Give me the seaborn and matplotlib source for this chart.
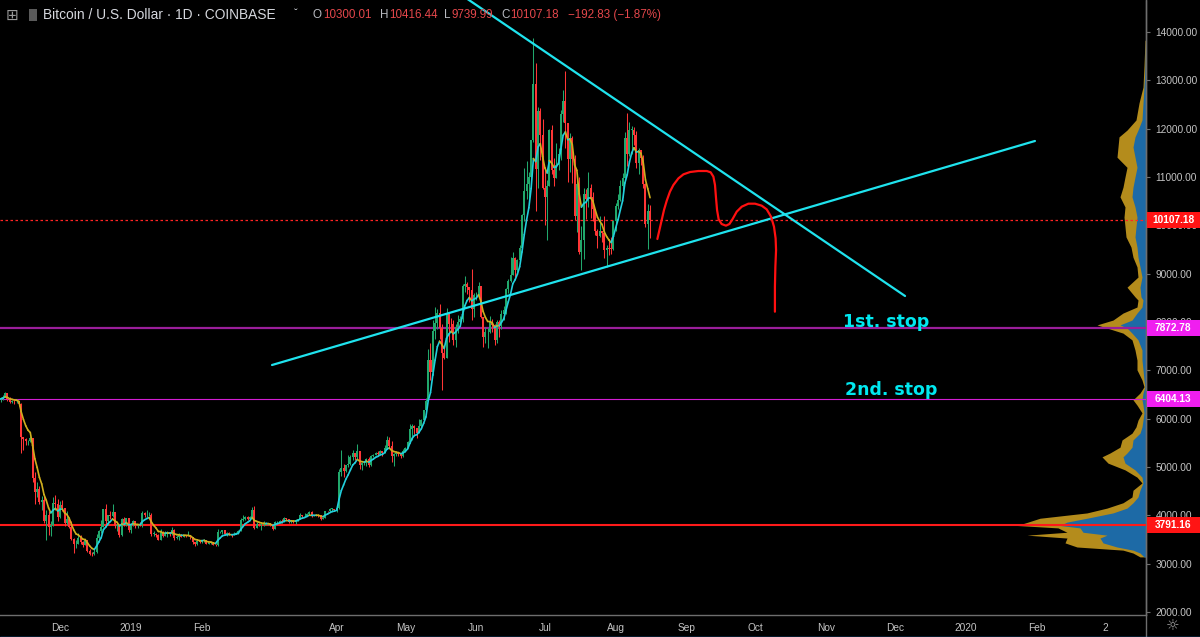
import numpy as np
import pandas as pd
import matplotlib
matplotlib.use("Agg")
import matplotlib.pyplot as plt
import matplotlib.transforms as mtrans
from matplotlib.patches import Rectangle
from matplotlib.lines import Line2D
from matplotlib.collections import LineCollection
import seaborn as sns

# ---------------- data (BTC/USD daily, COINBASE) ----------------
start_date = "2018-11-05"
first_open = 6380
nov_c = [6410, 6450, 6530, 6410, 6340, 6370, 6360, 6360, 6300, 5620, 5580, 5530, 5530, 5590, 4780, 4480, 4540, 4270, 4310, 3880, 4010, 3760, 3800, 4250, 4230, 3960]
nov_h = [6440, 6480, 6550, 6540, 6440, 6380, 6380, 6400, 6370, 6330, 5630, 5590, 5550, 5650, 5590, 4900, 4700, 4600, 4390, 4420, 4120, 4090, 3880, 4370, 4430, 4330]
nov_l = [6350, 6380, 6440, 6370, 6320, 6330, 6310, 6330, 6270, 5300, 5360, 5450, 5450, 5520, 4680, 4240, 4380, 4230, 4110, 3840, 3500, 3600, 3570, 3780, 4120, 3880]
dec_c = [4210, 4150, 3850, 3930, 3750, 3510, 3400, 3410, 3540, 3450, 3390, 3480, 3260, 3200, 3190, 3240, 3540, 3670, 3750, 4130, 3880, 4010, 3980, 4060, 3780, 3780, 3590, 3920, 3800, 3940, 3690]
dec_h = [4300, 4310, 4150, 4080, 3950, 3880, 3530, 3500, 3640, 3590, 3470, 3520, 3490, 3300, 3250, 3300, 3620, 3690, 3910, 4140, 4240, 4010, 4080, 4240, 4060, 3850, 3820, 3940, 3970, 3950, 3940]
dec_l = [3950, 4080, 3780, 3800, 3740, 3480, 3230, 3320, 3400, 3400, 3350, 3380, 3250, 3170, 3150, 3180, 3230, 3450, 3640, 3750, 3800, 3800, 3930, 3960, 3730, 3680, 3560, 3580, 3780, 3770, 3660]
jan_c = [3820, 3880, 3780, 3800, 3790, 4040, 4000, 4000, 4000, 3620, 3620, 3600, 3490, 3660, 3570, 3610, 3650, 3610, 3700, 3540, 3560, 3590, 3560, 3590, 3580, 3580, 3560, 3440, 3410, 3470, 3440]
jan_h = [3840, 3900, 3890, 3820, 3870, 4100, 4070, 4110, 4060, 4040, 3670, 3630, 3620, 3710, 3680, 3670, 3670, 3660, 3750, 3710, 3590, 3630, 3620, 3610, 3600, 3670, 3600, 3560, 3440, 3490, 3480]
jan_l = [3640, 3780, 3740, 3730, 3780, 3760, 3970, 3960, 3980, 3570, 3570, 3550, 3480, 3480, 3550, 3570, 3550, 3580, 3600, 3500, 3510, 3500, 3550, 3550, 3550, 3570, 3520, 3400, 3370, 3390, 3420]
feb_c = [3470, 3500, 3410, 3420, 3440, 3390, 3380, 3650, 3650, 3690, 3620, 3630, 3610, 3590, 3610, 3630, 3680, 3900, 3920, 3970, 3930, 3970, 4120, 3740, 3830, 3810, 3810, 3810]
feb_h = [3500, 3510, 3500, 3430, 3450, 3450, 3400, 3710, 3670, 3700, 3690, 3650, 3660, 3620, 3650, 3660, 3700, 3950, 4000, 3990, 3990, 3990, 4170, 4200, 3860, 3840, 3840, 3890]
feb_l = [3430, 3450, 3400, 3400, 3410, 3380, 3370, 3370, 3630, 3620, 3600, 3580, 3590, 3560, 3590, 3610, 3610, 3670, 3880, 3900, 3900, 3920, 3950, 3720, 3730, 3780, 3690, 3780]
mar_c = [3820, 3830, 3790, 3720, 3860, 3870, 3880, 3870, 3950, 3930, 3870, 3890, 3870, 3880, 3920, 4010, 3980, 3990, 4030, 4070, 3990, 4000, 4010, 4000, 3930, 3950, 4090, 4080, 4130, 4130, 4110]
mar_h = [3860, 3840, 3840, 3800, 3880, 3880, 3900, 3930, 3960, 3950, 3930, 3900, 3890, 3930, 3930, 4050, 4010, 4040, 4040, 4080, 4080, 4010, 4020, 4010, 4000, 3960, 4100, 4090, 4160, 4160, 4130]
mar_l = [3800, 3790, 3770, 3690, 3710, 3830, 3850, 3840, 3860, 3900, 3850, 3840, 3850, 3830, 3880, 3920, 3960, 3960, 3980, 4000, 3970, 3980, 3990, 3970, 3900, 3920, 3940, 4060, 4060, 4100, 4100]
apr_c = [4150, 4890, 4970, 4920, 5050, 5060, 5200, 5290, 5200, 5330, 5040, 5080, 5080, 5170, 5040, 5220, 5240, 5290, 5270, 5330, 5290, 5390, 5560, 5440, 5220, 5260, 5280, 5270, 5220, 5330]
apr_h = [4150, 4950, 5350, 5060, 5050, 5250, 5250, 5350, 5300, 5470, 5340, 5110, 5130, 5180, 5200, 5240, 5270, 5320, 5330, 5360, 5340, 5460, 5640, 5630, 5530, 5300, 5320, 5310, 5300, 5370]
apr_l = [4070, 4140, 4810, 4790, 4900, 4990, 5050, 5150, 5150, 5170, 4960, 4930, 5050, 5030, 4990, 5030, 5200, 5240, 5220, 5260, 5220, 5280, 5380, 5400, 5110, 5020, 5220, 5230, 5180, 5200]
may_c = [5400, 5510, 5780, 5850, 5800, 5710, 5850, 5970, 6180, 6370, 7210, 6960, 7810, 7980, 8190, 7880, 7350, 7260, 8190, 7960, 7950, 7630, 7890, 7990, 8070, 8750, 8790, 8720, 8660, 8270, 8550]
may_h = [5410, 5540, 5890, 5900, 5860, 5810, 6000, 6000, 6180, 6430, 7450, 7560, 8050, 8320, 8270, 8380, 7950, 7460, 8280, 8200, 8090, 8040, 7960, 8150, 8120, 8780, 8950, 8820, 8730, 9090, 8590]
may_l = [5320, 5390, 5500, 5560, 5690, 5600, 5700, 5800, 5950, 6140, 6370, 6800, 6900, 7650, 7860, 7650, 6600, 7230, 7250, 7590, 7810, 7520, 7490, 7780, 7950, 7990, 8620, 8580, 8420, 8040, 8100]
jun_c = [8550, 8740, 8110, 7680, 7790, 7800, 8000, 7930, 7630, 8010, 7920, 8170, 8240, 8690, 8850, 8980, 9330, 9080, 9280, 9530, 10210, 10700, 10860, 11000, 11760, 12930, 11160, 12370, 11870, 10770]
jun_h = [8620, 8820, 8750, 8110, 7900, 7880, 8120, 8060, 7950, 8050, 8040, 8240, 8330, 8700, 8880, 9340, 9450, 9340, 9300, 9590, 10240, 11190, 11330, 11100, 11770, 13880, 13350, 12450, 12420, 12190]
jun_l = [8460, 8530, 8080, 7480, 7570, 7460, 7770, 7800, 7520, 7560, 7700, 7850, 8050, 8160, 8610, 8830, 8970, 8930, 9040, 9220, 9520, 10090, 10550, 10560, 10970, 11720, 10300, 10780, 11350, 10760]
jul_c = [10590, 10820, 11980, 11150, 10980, 11240, 11480, 12300, 12580, 12110, 11370, 11810, 11380, 10200, 10860, 9440, 9690, 10640, 10540, 10770, 10590, 10330, 9880, 9780, 9880, 9850, 9480, 9530, 9520, 9510, 10090]
jul_h = [11200, 10930, 12000, 12080, 11400, 11700, 11600, 12380, 12800, 13200, 12110, 11910, 11840, 11460, 11080, 11000, 9990, 10780, 10750, 11100, 10860, 10680, 10330, 9930, 10190, 9890, 10200, 9600, 9720, 9750, 10120]
jul_l = [10000, 9700, 10820, 11070, 10820, 10990, 11140, 11360, 12130, 11600, 10900, 11100, 10880, 10120, 9870, 9400, 9070, 9300, 10140, 10380, 10150, 10080, 9800, 9530, 9750, 9660, 9330, 9140, 9390, 9410, 9480]
aug_c = [10400, 10530, 10820, 10980, 11800, 11470, 11980, 11980, 11860, 11290, 11560, 11390, 10860, 10020, 10300.01, 10107.18]
aug_h = [10460, 10650, 10930, 11080, 11930, 12320, 12140, 12050, 12040, 11960, 11590, 11560, 11450, 10880, 10450, 10416.44]
aug_l = [9880, 10340, 10500, 10580, 10980, 11220, 11440, 11470, 11670, 11190, 11060, 11250, 10780, 9970, 9500, 9739.99]

# horizontal price levels
last_price = 10107.18
stop1_price = 7872.78
stop2_price = 6404.13
support_price = 3791.16

# visible-range volume profile (price level, up volume, down volume)
vp_price = [3140, 3220, 3280, 3345, 3430, 3530, 3590, 3650, 3740, 3790, 3860, 3940, 4050, 4150, 4260, 4380, 4520,
            4670, 4790, 4940, 5080, 5210, 5290, 5410, 5560, 5700, 5830, 5970, 6120, 6280, 6390, 6530, 6660, 6800,
            7010, 7210, 7420, 7630, 7770, 7875, 7940, 8040, 8185, 8310, 8455, 8520, 8720, 8930, 9140, 9340, 9550,
            9760, 9970, 10170, 10380, 10590, 10790, 11000, 11200, 11410, 11620, 11830, 11970, 12180, 12530, 12860,
            13300, 13830]
vp_up = [2, 6, 13, 29, 43, 46, 39, 63, 66, 86, 79, 59, 33, 19, 13, 8, 6,
         3, 4, 11, 21, 23, 19, 14, 13, 6, 4, 3, 2, 3, 4, 3, 1, 2,
         3, 4, 4, 8, 14, 19, 26, 14, 9, 4, 3, 5, 6, 4, 6, 8, 9,
         11, 10, 9, 11, 14, 13, 11, 9, 11, 13, 11, 8, 4, 3, 2,
         1, 0.5]
vp_down = [4, 7, 10, 40, 38, 33, 80, 16, 22, 43, 39, 47, 26, 20, 10, 6, 7,
           1, 5, 10, 17, 21, 17, 12, 11, 8, 6, 5, 2, 6, 9, 3, 1, 2,
           6, 5, 7, 6, 9, 20, 23, 19, 14, 5, 5, 6, 13, 4, 3, 5, 6,
           9, 11, 13, 10, 12, 10, 10, 10, 18, 15, 16, 11, 6, 4, 1,
           1, 0.5]

# drawings (day offset from 2018-12-01, price)
falling_line_day = [175.0, 369.5]
falling_line_price = [14784, 8538]
rising_line_day = [92.7, 426.3]
rising_line_price = [7110, 11745]
path_day = [261.2, 262.1, 263.1, 264.1, 265.3, 266.7, 268.2, 270.4, 272.6, 275.5, 279.1, 282.8, 284.5, 285.7,
            286.4, 286.8, 287.3, 288.0, 289.3, 291.2, 292.7, 294.1, 295.9, 298.1, 301.0, 303.9, 306.8, 309.0,
            310.9, 312.2, 312.9, 313.1, 312.8, 312.6, 312.6]
path_price = [9717, 9903, 10110, 10317, 10510, 10696, 10834, 10972, 11055, 11103, 11124, 11124, 11097, 11007,
              10834, 10593, 10317, 10124, 10027, 9993, 10027, 10131, 10283, 10386, 10448, 10448, 10407, 10331,
              10179, 9972, 9731, 9489, 9145, 8731, 8213]

date_tick_dates = ["2018-12-01", "2019-01-01", "2019-02-01", "2019-04-01", "2019-05-01", "2019-06-01",
                   "2019-07-01", "2019-08-01", "2019-09-01", "2019-10-01", "2019-11-01", "2019-12-01",
                   "2020-01-01", "2020-02-01", "2020-03-02"]
date_tick_labels = ["Dec", "2019", "Feb", "Apr", "May", "Jun", "Jul", "Aug", "Sep", "Oct", "Nov", "Dec",
                    "2020", "Feb", "2"]
price_ticks = [2000, 3000, 4000, 5000, 6000, 7000, 8000, 9000, 10000, 11000, 12000, 13000, 14000]

# ---------------- build frame ----------------
closes = nov_c + dec_c + jan_c + feb_c + mar_c + apr_c + may_c + jun_c + jul_c + aug_c
highs = nov_h + dec_h + jan_h + feb_h + mar_h + apr_h + may_h + jun_h + jul_h + aug_h
lows = nov_l + dec_l + jan_l + feb_l + mar_l + apr_l + may_l + jun_l + jul_l + aug_l
dates = pd.date_range(start_date, periods=len(closes), freq="D")
ref = pd.Timestamp("2018-12-01")
df = pd.DataFrame({"date": dates, "close": closes, "high": highs, "low": lows})
df["open"] = [first_open] + closes[:-1]
df["x"] = (df["date"] - ref).dt.days.astype(float)
df["top"] = df[["high", "open", "close"]].max(axis=1)
df["bot"] = df[["low", "open", "close"]].min(axis=1)
df["ma"] = df["close"].ewm(span=6, adjust=False).mean()

# ---------------- style ----------------
sns.set_theme(style="dark")
plt.rcParams["font.family"] = ["Liberation Sans", "DejaVu Sans"]
BG = "#000000"
GRID_TXT = "#c4c4c4"
AXLINE = "#6e6e6e"
UP = "#21a86c"
DOWN = "#ff3636"
CYAN = "#1fe3ee"

FW, FH = 1200, 637
fig = plt.figure(figsize=(12, 6.37), dpi=100, facecolor=BG)
PL, PR, PT, PB = 0, 1146, 0, 615
rect = [PL / FW, (FH - PB) / FH, (PR - PL) / FW, (PB - PT) / FH]

YLIM = (1938, 14662)
XLIM = (-26.24, 474.86)

# volume profile axes (under main axes)
VPW = 400
vp = fig.add_axes([(PR - VPW) / FW, (FH - PB) / FH, VPW / FW, (PB - PT) / FH], zorder=1)
vp.set_facecolor(BG)
up = np.array(vp_up, float)
tot = up + np.array(vp_down, float)
vp.fill_betweenx(vp_price, 0, tot, color="#b48c1c", lw=0)
vp.fill_betweenx(vp_price, 0, up, color="#1d6aa6", lw=0)
vp.set_xlim(VPW, 0)
vp.set_ylim(*YLIM)
vp.axis("off")

ax = fig.add_axes(rect, zorder=2)
ax.patch.set_alpha(0)
ax.set_xlim(*XLIM)
ax.set_ylim(*YLIM)
ax.grid(False)

# horizontal levels
ax.axhline(last_price, color="#ff2424", lw=0.9, ls=(0, (2, 2)), zorder=3)
ax.axhline(stop1_price, color="#9a1e9a", lw=1.6, zorder=3)
ax.axhline(stop2_price, color="#d21ed2", lw=0.8, zorder=3)
ax.axhline(support_price, color="#ff1a1a", lw=1.5, zorder=3)

# candles
colors = np.where(df["close"] >= df["open"], UP, DOWN)
ax.vlines(df["x"], df["bot"], df["top"], colors=colors, lw=0.75, zorder=4)
body_lo = np.minimum(df["open"], df["close"])
body_h = np.maximum(np.abs(df["close"] - df["open"]), 12)
ax.bar(df["x"], body_h, bottom=body_lo, width=0.88, color=colors, lw=0, zorder=4)

# moving average coloured by slope
xs = df["x"].to_numpy()
ma = df["ma"].to_numpy()
segs = np.stack([np.column_stack([xs[:-1], ma[:-1]]), np.column_stack([xs[1:], ma[1:]])], axis=1)
seg_cols = np.where(np.diff(ma) >= 0, "#22cfdc", "#cfae1e")
ax.add_collection(LineCollection(segs, colors=seg_cols, linewidths=1.2, zorder=5, capstyle="round"))

# drawings
sns.lineplot(x=falling_line_day, y=falling_line_price, ax=ax, color=CYAN, lw=1.6, sort=False,
             estimator=None, legend=False, zorder=6)
sns.lineplot(x=rising_line_day, y=rising_line_price, ax=ax, color=CYAN, lw=1.6, sort=False,
             estimator=None, legend=False, zorder=6)
sns.lineplot(x=path_day, y=path_price, ax=ax, color="#ff1010", lw=1.6, sort=False,
             estimator=None, legend=False, zorder=6)

ax.text(342.4, 8000, "1st. stop", color="#00e8f0", fontsize=12.5, fontweight="bold",
        family="DejaVu Sans", ha="left", va="center", zorder=7)
ax.text(343.2, 6593, "2nd. stop", color="#00e8f0", fontsize=12.5, fontweight="bold",
        family="DejaVu Sans", ha="left", va="center", zorder=7)

# axes styling
for s in ["top", "left"]:
    ax.spines[s].set_visible(False)
ax.spines["right"].set_color(AXLINE)
ax.spines["bottom"].set_color(AXLINE)
ax.spines["right"].set_linewidth(1.0)
ax.spines["bottom"].set_linewidth(1.0)
ax.yaxis.tick_right()
ax.set_yticks(price_ticks)
ax.set_yticklabels([f"{v:.2f}" for v in price_ticks])
tick_x = [(pd.Timestamp(d) - ref).days for d in date_tick_dates]
ax.set_xticks(tick_x)
ax.set_xticklabels(date_tick_labels)
ax.tick_params(axis="y", colors=AXLINE, labelcolor=GRID_TXT, length=3, width=0.8, pad=4, labelsize=7.3)
ax.tick_params(axis="x", colors=AXLINE, labelcolor=GRID_TXT, length=3, width=0.8, pad=3, labelsize=7.3)
ax.set_xlabel("")
ax.set_ylabel("")

# price tags on right scale
blend = mtrans.blended_transform_factory(fig.transFigure, ax.transData)
tag_h = 16 / (PB - PT) * (YLIM[1] - YLIM[0])
for price, col in [(last_price, "#ff1414"), (stop1_price, "#f01ef0"), (stop2_price, "#f01ef0"),
                   (support_price, "#ff1414")]:
    fig.add_artist(Rectangle(((PR + 1) / FW, price - tag_h / 2), 53 / FW, tag_h, transform=blend,
                             facecolor=col, edgecolor="none", zorder=10))
    fig.text((PR + 27) / FW, price, f"{price:.2f}", transform=blend, color="white", fontsize=7.3,
             fontweight="bold", ha="center", va="center", zorder=11)

# full-height scale separator & bottom accent
fig.add_artist(Line2D([PR / FW, PR / FW], [0, 1], color=AXLINE, lw=1.0))
fig.add_artist(Line2D([0, 1], [0.5 / FH, 0.5 / FH], color="#1e88e5", lw=1.0))
fig.text(1173 / FW, 1 - 626 / FH, "\u263c", color="#a0a0a0", fontsize=11, family="DejaVu Sans",
         ha="center", va="center")

# header
def ftxt(px, py, s, **kw):
    fig.text(px / FW, 1 - py / FH, s, va="center", ha="left", **kw)

ftxt(6, 15, "\u229e", color="#9a9a9a", fontsize=11, family="DejaVu Sans")
fig.add_artist(Rectangle((29 / FW, 1 - 21 / FH), 8 / FW, 12 / FH, transform=fig.transFigure,
                         facecolor="#5a5a5a", edgecolor="none"))
ftxt(43, 15, "Bitcoin / U.S. Dollar \u00b7 1D \u00b7 COINBASE", color="#d6d8de", fontsize=9.9)
ftxt(294, 14, "\u02c7", color="#d6d8de", fontsize=8)
RED = "#e4474b"
LBL = "#b8bac0"
for px, s, c in [(313, "O", LBL), (323, "10300.01", RED), (380, "H", LBL), (389, "10416.44", RED),
                 (444, "L", LBL), (452, "9739.99", RED), (501, "C", LBL), (510, "10107.18", RED),
                 (568, "\u2212192.83 (\u22121.87%)", RED)]:
    ftxt(px, 15, s, color=c, fontsize=8.4)

fig.savefig("out.png", dpi=100, facecolor=BG)
